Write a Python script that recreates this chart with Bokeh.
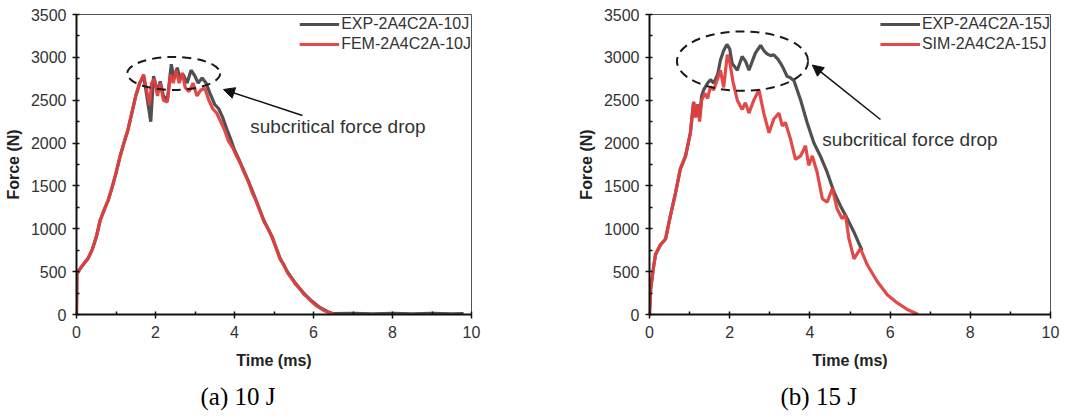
from bokeh.plotting import figure
from bokeh.layouts import row
from bokeh.models import Range1d, FixedTicker, Label, Arrow, NormalHead, Ellipse, ColumnDataSource, Title
from bokeh.embed import file_html
from bokeh.resources import INLINE

# ---------------- data: (a) 10 J ----------------
t_fem10 = [0.0, 0.01, 0.1, 0.2, 0.3, 0.4, 0.5, 0.6, 0.7, 0.8, 0.9, 1.0, 1.1, 1.2, 1.3, 1.4, 1.5, 1.6,
           1.7, 1.78, 1.85, 1.9, 1.97, 2.05, 2.12, 2.2, 2.3, 2.38, 2.45, 2.52, 2.6, 2.68, 2.75, 2.85,
           2.95, 3.05, 3.15, 3.25, 3.35, 3.45, 3.55, 3.65, 3.75, 3.85, 3.95, 4.05, 4.15, 4.25, 4.35,
           4.45, 4.55, 4.65, 4.75, 4.85, 4.95, 5.05, 5.15, 5.25, 5.35, 5.45, 5.55, 5.65, 5.75, 5.85,
           5.95, 6.05, 6.15, 6.25, 6.35, 6.45, 6.52]
f_fem10 = [0, 480, 540, 600, 660, 760, 900, 1100, 1220, 1330, 1480, 1650, 1840, 2000, 2150, 2350, 2550, 2700,
           2800, 2600, 2450, 2700, 2750, 2550, 2700, 2500, 2480, 2800, 2700, 2850, 2700, 2820, 2650, 2600,
           2700, 2550, 2620, 2640, 2500, 2400, 2350, 2250, 2150, 2020, 1950, 1850, 1760, 1650, 1550,
           1420, 1320, 1200, 1080, 1000, 900, 780, 650, 580, 480, 420, 350, 300, 240, 200,
           150, 110, 80, 50, 30, 10, 0]

t_exp10 = [0.0, 0.01, 0.1, 0.2, 0.3, 0.4, 0.5, 0.6, 0.7, 0.8, 0.9, 1.0, 1.1, 1.2, 1.3, 1.4, 1.5, 1.6,
           1.7, 1.78, 1.88, 1.95, 2.05, 2.12, 2.2, 2.3, 2.4, 2.47, 2.55, 2.62, 2.7, 2.8, 2.9, 3.0,
           3.08, 3.18, 3.28, 3.38, 3.5, 3.6, 3.7, 3.8, 3.9, 4.0, 4.15, 4.35, 4.55, 4.75, 4.95, 5.15,
           5.35, 5.55, 5.75, 5.95, 6.15, 6.35, 6.5, 7.0, 7.5, 8.0, 8.5, 9.0, 9.5, 9.8]
f_exp10 = [0, 470, 540, 600, 660, 760, 900, 1100, 1220, 1330, 1480, 1650, 1840, 2000, 2150, 2350, 2550, 2700,
           2780, 2550, 2250, 2780, 2600, 2720, 2550, 2500, 2920, 2750, 2880, 2750, 2800, 2700, 2850, 2780,
           2700, 2760, 2700, 2580, 2450, 2400, 2300, 2170, 2050, 1920, 1770, 1560, 1330, 1090, 910, 660,
           490, 360, 250, 160, 85, 35, 10, 12, 8, 12, 8, 12, 8, 10]

# ---------------- data: (b) 15 J ----------------
t_sim15 = [0.0, 0.03, 0.1, 0.15, 0.27, 0.4, 0.52, 0.65, 0.77, 0.9, 1.02, 1.1, 1.15, 1.2, 1.25, 1.3, 1.38,
           1.45, 1.52, 1.6, 1.69, 1.77, 1.85, 1.94, 2.0, 2.08, 2.19, 2.31, 2.39, 2.48, 2.6, 2.73, 2.85,
           2.98, 3.1, 3.23, 3.31, 3.39, 3.52, 3.64, 3.77, 3.89, 3.97, 4.06, 4.18, 4.31, 4.43, 4.56, 4.68,
           4.8, 4.89, 4.97, 5.1, 5.26, 5.43, 5.68, 5.93, 6.18, 6.43, 6.7]
f_sim15 = [0, 300, 550, 700, 810, 880, 1150, 1420, 1700, 1850, 2120, 2480, 2300, 2450, 2250, 2500, 2580,
           2520, 2660, 2620, 2740, 2850, 2650, 3030, 2950, 2720, 2500, 2390, 2470, 2350, 2500, 2620, 2350,
           2120, 2280, 2350, 2200, 2240, 2040, 1810, 1850, 1970, 1740, 1850, 1660, 1350, 1310, 1470, 1230,
           1120, 1160, 890, 650, 770, 580, 385, 230, 135, 58, 0]

t_exp15 = [0.0, 0.03, 0.1, 0.15, 0.27, 0.4, 0.52, 0.65, 0.77, 0.9, 1.02, 1.1, 1.15, 1.2, 1.25, 1.3, 1.35,
           1.45, 1.52, 1.6, 1.7, 1.77, 1.85, 1.93, 2.0, 2.06, 2.19, 2.31, 2.4, 2.48, 2.56, 2.64, 2.77,
           2.85, 2.93, 3.02, 3.1, 3.2, 3.27, 3.35, 3.43, 3.52, 3.6, 3.77, 3.93, 4.1, 4.26, 4.43, 4.6,
           4.76, 4.93, 5.1, 5.26, 5.3]
f_exp15 = [0, 300, 550, 700, 810, 880, 1150, 1420, 1700, 1850, 2120, 2480, 2300, 2450, 2300, 2550, 2620,
           2700, 2740, 2700, 2800, 2970, 3080, 3150, 3100, 2930, 2850, 3010, 2950, 2850, 2950, 3050, 3140,
           3080, 3040, 3020, 3030, 2980, 2930, 2860, 2780, 2760, 2730, 2500, 2240, 2000, 1850, 1660, 1430,
           1270, 1120, 960, 790, 750]

x_ticks = [0, 2, 4, 6, 8, 10]
y_ticks = [0, 500, 1000, 1500, 2000, 2500, 3000, 3500]
x_minor = [1, 3, 5, 7, 9]
y_minor = [250, 750, 1250, 1750, 2250, 2750, 3250]

labels_a = ["EXP-2A4C2A-10J", "FEM-2A4C2A-10J"]
labels_b = ["EXP-2A4C2A-15J", "SIM-2A4C2A-15J"]
annot_text = "subcritical force drop"

GREY = "#505050"
RED = "#e04040"
FONT = "Liberation Sans"


def make_panel(width, bl, br, bb, t1, f1, t2, f2, labels, ell, arrow, txt, caption, cap_off):
    p = figure(width=width, height=418, output_backend="svg", toolbar_location=None,
               x_range=Range1d(0, 10), y_range=Range1d(0, 3500),
               min_border_left=bl, min_border_right=br, min_border_top=14, min_border_bottom=bb)
    p.xgrid.visible = False
    p.ygrid.visible = False
    p.outline_line_color = "#555555"
    p.outline_line_width = 1
    p.background_fill_color = "white"
    p.border_fill_color = "white"

    p.xaxis.ticker = FixedTicker(ticks=x_ticks, minor_ticks=x_minor)
    p.yaxis.ticker = FixedTicker(ticks=y_ticks, minor_ticks=y_minor)
    for ax in (p.xaxis[0], p.yaxis[0]):
        ax.axis_line_width = 2
        ax.axis_line_color = "#111111"
        ax.major_tick_line_width = 1.5
        ax.major_tick_line_color = "#111111"
        ax.minor_tick_line_color = "#111111"
        ax.minor_tick_line_width = 1.5
        ax.major_tick_in = 3
        ax.major_tick_out = 4
        ax.minor_tick_in = 3
        ax.minor_tick_out = 0
        ax.major_label_text_font = FONT
        ax.major_label_text_font_size = "16px"
        ax.major_label_text_color = "#333333"
        ax.axis_label_text_font = FONT
        ax.axis_label_text_font_size = "16px"
        ax.axis_label_text_font_style = "bold"
        ax.axis_label_text_color = "#222222"
    p.xaxis.axis_label = "Time (ms)"
    p.yaxis.axis_label = "Force (N)"
    p.xaxis.major_label_standoff = 7
    p.xaxis.axis_label_standoff = 11
    p.yaxis.major_label_standoff = 6
    p.yaxis.axis_label_standoff = 6

    p.line(t1, f1, line_color=GREY, line_width=3.2, legend_label=labels[0])
    p.line(t2, f2, line_color=RED, line_width=3.2, line_alpha=0.95, legend_label=labels[1])

    src = ColumnDataSource(dict(x=[ell[0]], y=[ell[1]], w=[ell[2]], h=[ell[3]]))
    p.add_glyph(src, Ellipse(x="x", y="y", width="w", height="h", fill_color=None,
                             line_color="#1a1a1a", line_width=2, line_dash="9 6"))

    p.add_layout(Arrow(end=NormalHead(size=11, fill_color="#111111", line_color="#111111"),
                       x_start=arrow[0], y_start=arrow[1], x_end=arrow[2], y_end=arrow[3],
                       line_color="#111111", line_width=1.5))

    p.add_layout(Label(x=txt[0], y=txt[1], text=annot_text, text_font=FONT, text_font_size="19px",
                       text_color="#333333", text_baseline="middle", text_align="left"))

    cap = Title(text=caption, align="left", offset=cap_off, text_font="Liberation Serif",
                text_font_size="25px", text_font_style="normal", text_color="#000000", standoff=18)
    p.add_layout(cap, "below")

    lg = p.legend[0]
    lg.location = "top_right"
    lg.border_line_color = None
    lg.background_fill_alpha = 0
    lg.label_text_font = FONT
    lg.label_text_font_size = "16px"
    lg.label_text_color = "#333333"
    lg.glyph_width = 40
    lg.glyph_height = 20
    lg.label_height = 20
    lg.label_standoff = 2
    lg.spacing = 0
    lg.padding = 6
    lg.margin = 0
    return p


p1 = make_panel(539, 76, 68, 104, t_exp10, f_exp10, t_fem10, f_fem10, labels_a,
                (2.46, 2812, 2.35, 385), (5.72, 2322, 3.72, 2625), (4.4, 2193),
                "(a) 10 J", 124)
p2 = make_panel(539, 110, 28, 101, t_exp15, f_exp15, t_sim15, f_sim15, labels_b,
                (2.32, 2956, 3.27, 693), (5.76, 2275, 4.06, 2910), (4.31, 2044),
                "(b) 15 J", 131)

layout = row(p1, p2)
open("out.html", "w").write(file_html(layout, INLINE))
